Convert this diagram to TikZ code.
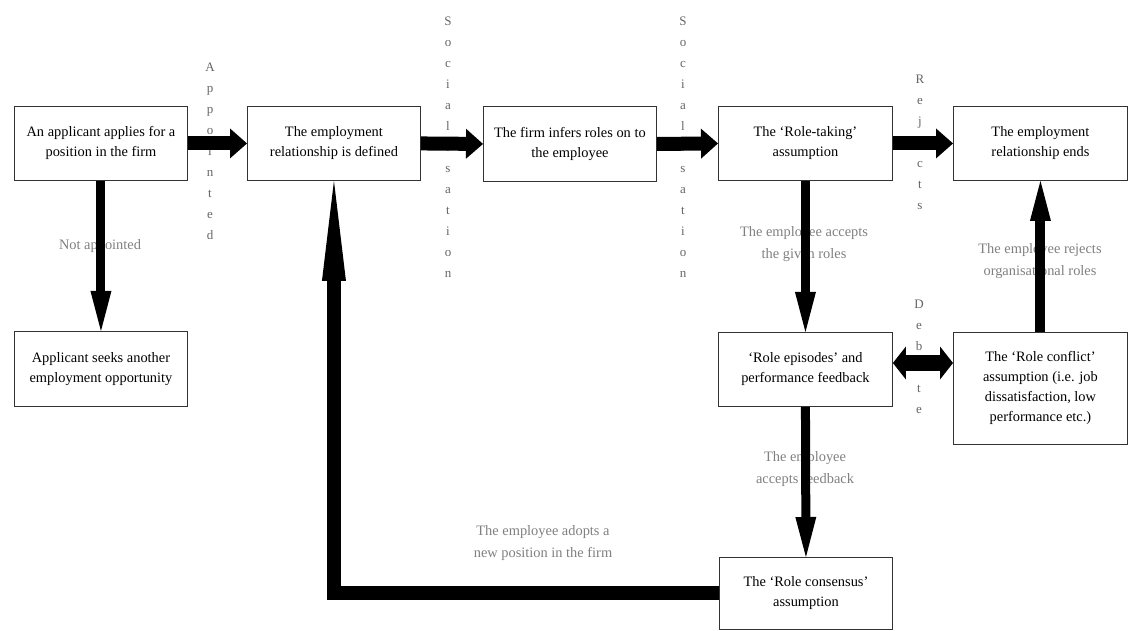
\documentclass[tikz,border=0pt]{standalone}
\usepackage{fontspec}
\setmainfont{Liberation Serif}
\usetikzlibrary{arrows.meta}
\begin{document}
\begin{tikzpicture}[x=1pt,y=-1pt,
  box/.style={draw=black!80, line width=0.9pt, fill=white, anchor=north west,
    inner sep=0pt, align=center, font=\fontsize{14.4}{20}\selectfont},
  glab/.style={text=black!50, align=center, inner sep=0pt, font=\fontsize{14.4}{22}\selectfont},
  vlab/.style={text=black!60, align=center, inner sep=0pt, font=\fontsize{13}{21}\selectfont},
  harrow/.style={draw=black, line width=14pt, -{Triangle[length=17pt,width=30pt,line width=0pt]}},
  varrow/.style={draw=black, line width=9pt, -{Triangle[length=40pt,width=21pt,line width=0pt]}},
  looparrow/.style={draw=black, line width=14pt, line join=miter, -{Triangle[length=100pt,width=24pt,line width=0pt]}},
  dblarrow/.style={draw=black, line width=16pt, {Triangle[length=13pt,width=33pt,line width=0pt]}-{Triangle[length=13pt,width=33pt,line width=0pt]}}
]
\fill[white] (0,0) rectangle (1128,631);
\useasboundingbox (0,0) rectangle (1128,631);

% labels (drawn first, arrows cover them)
\node[glab] (lna) at (100,246) {Not appointed};
\node[glab] (lacc) at (804,244) {The employee accepts\\the given roles};
\node[glab] (lrej) at (1040,261) {The employee rejects\\organisational roles};
\node[glab] (lfb) at (805,469) {The employee\\accepts feedback};
\node[glab] (lnew) at (543,543) {The employee adopts a\\new position in the firm};

\node[vlab] (vapp) at (210,151) {A\\p\\p\\o\\i\\n\\t\\e\\d};
\node[vlab] (vsoc1) at (448,147) {S\\o\\c\\i\\a\\l\\i\\s\\a\\t\\i\\o\\n};
\node[vlab] (vsoc2) at (683,147) {S\\o\\c\\i\\a\\l\\i\\s\\a\\t\\i\\o\\n};
\node[vlab] (vrej) at (920,142) {R\\e\\j\\e\\c\\t\\s};
\node[vlab] (vdeb) at (919,357) {D\\e\\b\\a\\t\\e};

% boxes
\node[box, minimum width=173pt, minimum height=74pt] (b1) at (14,106) {An applicant applies for a\\position in the firm};
\node[box, minimum width=173pt, minimum height=74pt] (b2) at (247,106) {The employment\\relationship is defined};
\node[box, minimum width=173pt, minimum height=75pt] (b3) at (483,106) {The firm infers roles on to\\the employee};
\node[box, minimum width=174pt, minimum height=74pt] (b4) at (718,106) {The ‘Role-taking’\\assumption};
\node[box, minimum width=174pt, minimum height=74pt] (b5) at (953,106) {The employment\\relationship ends};
\node[box, minimum width=173pt, minimum height=75pt] (b9) at (14,331) {Applicant seeks another\\employment opportunity};
\node[box, minimum width=174pt, minimum height=74pt] (b6) at (718,332) {‘Role episodes’ and\\performance feedback};
\node[box, minimum width=174pt, minimum height=112pt] (b7) at (953,332) {The ‘Role conflict’\\assumption (i.e. job\\dissatisfaction, low\\performance etc.)};
\node[box, minimum width=173pt, minimum height=72pt] (b8) at (719,557) {The ‘Role consensus’\\assumption};

% arrows
\draw[harrow] (b1.east) -- (b2.west);
\draw[harrow] (b2.east) -- (b3.west);
\draw[harrow] (b3.east) -- (b4.west);
\draw[harrow] (b4.east) -- (b5.west);
\draw[varrow] (b1.south) -- (b9.north);
\draw[varrow] (b4.south) -- (b6.north);
\draw[varrow] (b6.south) -- (b8.north);
\draw[varrow, line width=10pt] (b7.north) -- (b5.south);
\draw[dblarrow] ([yshift=-31pt]b6.north east) -- ([yshift=-31pt]b7.north west);
\draw[looparrow] (b8.west) -| (b2.south);
\end{tikzpicture}
\end{document}
